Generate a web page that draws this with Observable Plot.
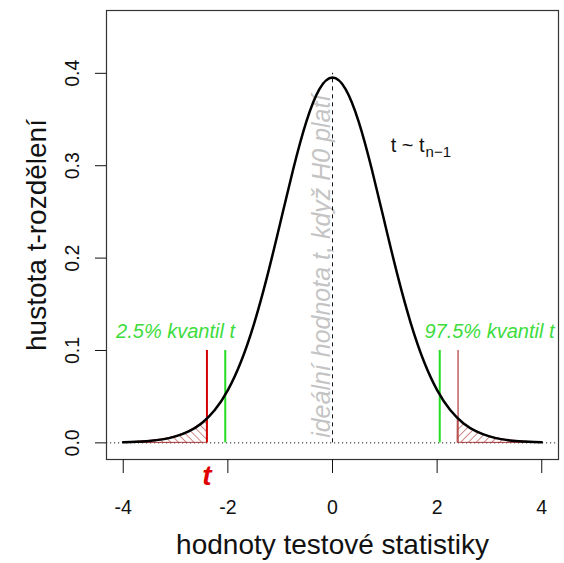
<!DOCTYPE html>
<html><head><meta charset="utf-8">
<script src="https://cdn.jsdelivr.net/npm/d3@7"></script>
<script src="https://cdn.jsdelivr.net/npm/@observablehq/plot@0.6"></script>
<style>body{margin:0;background:#fff;} svg{display:block;}</style>
</head><body><div id="chart"></div>
<script>
// ---- data ----
const xValues = [-4,-3.75,-3.5,-3.25,-3,-2.75,-2.5,-2.25,-2,-1.75,-1.5,-1.25,-1,-0.75,-0.5,-0.25,0,
                 0.25,0.5,0.75,1,1.25,1.5,1.75,2,2.25,2.5,2.75,3,3.25,3.5,3.75,4];
const densValues = [0.0006,0.0011,0.0021,0.0038,0.0070,0.0124,0.0213,0.0355,0.0571,0.0878,0.1289,0.1799,0.2378,0.2964,0.3477,0.3829,0.3955,
                    0.3829,0.3477,0.2964,0.2378,0.1799,0.1289,0.0878,0.0571,0.0355,0.0213,0.0124,0.0070,0.0038,0.0021,0.0011,0.0006];
const tStat = -2.4;
const densAtT = 0.0263;
const criticalValues = [-2.4, 2.4];
const quantiles = [-2.05, 2.05];
const markerTop = 0.1;
const centerLineTop = 0.4;
const xTicks = [-4, -2, 0, 2, 4];
const yTicks = [0, 0.1, 0.2, 0.3, 0.4];
const quantileLabels = ["2.5% kvantil t", "97.5% kvantil t"];
const quantileLabelX = [-3, 3];
const quantileLabelY = 0.12;
const distLabel = "t ~ t";
const distSub = "n\u22121";
const distLabelPos = {x: 1.76, y: 0.322};
const centerLabel = "ideální hodnota t, když H0 platí";
const xTitle = "hodnoty testové statistiky";
const yTitle = "hustota t-rozdělení";

// ---- derived tables ----
const curve = xValues.map((x, i) => ({x, y: densValues[i]}));
const leftTail = curve.filter(d => d.x <= tStat).concat([{x: tStat, y: densAtT}]);
const rightTail = [{x: -tStat, y: densAtT}].concat(curve.filter(d => d.x >= -tStat));
const qLabels = quantileLabels.map((t, i) => ({t, x: quantileLabelX[i], y: quantileLabelY}));

const font = "'Liberation Sans', Arial, sans-serif";

const chart = Plot.plot({
  width: 564, height: 563,
  marginLeft: 106, marginRight: 6, marginTop: 10, marginBottom: 104,
  style: {fontFamily: font, background: "#fff", color: "#111"},
  x: {domain: [-4.32, 4.32]},
  y: {domain: [-0.018, 0.468]},
  marks: [
    Plot.frame({stroke: "#333", strokeWidth: 1.2}),
    Plot.axisX({ticks: xTicks, tickSize: 14, tickPadding: 27, fontSize: 19.5, label: null, tickFormat: d => String(d)}),
    Plot.axisY({ticks: yTicks, tickSize: 11, tickFormat: () => "", label: null}),
    Plot.text(yTicks, {y: d => d, frameAnchor: "left", dx: -34, rotate: -90, text: d => d.toFixed(1), fontSize: 19.5, textAnchor: "middle", lineAnchor: "middle"}),
    Plot.text([xTitle], {frameAnchor: "bottom", dy: 86, fontSize: 28, textAnchor: "middle", lineAnchor: "middle"}),
    Plot.text([yTitle], {frameAnchor: "left", dx: -69, rotate: -90, fontSize: 28, textAnchor: "middle", lineAnchor: "middle"}),
    Plot.ruleY([0], {stroke: "#222", strokeDasharray: "1.2,2.8"}),
    Plot.areaY(leftTail, {x: "x", y: "y", fill: "url(#hatchL)", stroke: "#a83232", strokeWidth: 1, curve: "natural"}),
    Plot.areaY(rightTail, {x: "x", y: "y", fill: "url(#hatchR)", stroke: "#a83232", strokeWidth: 1, curve: "natural"}),
    Plot.text([centerLabel], {x: 0, y: 0, dx: -3, dy: -5, rotate: -90, textAnchor: "start", lineAnchor: "bottom", fill: "#c4c4c4", fontStyle: "italic", fontSize: 25}),
    Plot.ruleX([0], {y1: 0, y2: centerLineTop, stroke: "#111", strokeDasharray: "4,4"}),
    Plot.ruleX(quantiles, {y1: 0, y2: markerTop, stroke: "#22dd22", strokeWidth: 2}),
    Plot.ruleX([criticalValues[0]], {y1: 0, y2: markerTop, stroke: "#d40000", strokeWidth: 2}),
    Plot.ruleX([criticalValues[1]], {y1: 0, y2: markerTop, stroke: "#b03a3a", strokeWidth: 1.2}),
    Plot.line(curve, {x: "x", y: "y", stroke: "#000", strokeWidth: 2.5, curve: "natural"}),
    Plot.text(qLabels, {x: "x", y: "y", text: "t", fill: "#3ddc3d", fontStyle: "italic", fontSize: 20}),
    Plot.text([distLabel], {x: distLabelPos.x, y: distLabelPos.y, textAnchor: "end", fontSize: 20, fill: "#111"}),
    Plot.text([distSub], {x: distLabelPos.x, y: distLabelPos.y, dx: 1, dy: 7, textAnchor: "start", fontSize: 15, fill: "#111"}),
    Plot.text([tStat], {x: d => d, frameAnchor: "bottom", dy: 17, text: () => "t", fill: "#e00000", fontStyle: "italic", fontWeight: "bold", fontSize: 28, textAnchor: "middle", lineAnchor: "middle"})
  ]
});

// hatch patterns
const ns = "http://www.w3.org/2000/svg";
const defs = document.createElementNS(ns, "defs");
[["hatchL", -45], ["hatchR", 45]].forEach(([id, ang]) => {
  const p = document.createElementNS(ns, "pattern");
  p.setAttribute("id", id);
  p.setAttribute("patternUnits", "userSpaceOnUse");
  p.setAttribute("width", "5.5");
  p.setAttribute("height", "5.5");
  p.setAttribute("patternTransform", `rotate(${ang})`);
  const l = document.createElementNS(ns, "line");
  l.setAttribute("x1", "0"); l.setAttribute("y1", "0");
  l.setAttribute("x2", "0"); l.setAttribute("y2", "5.5");
  l.setAttribute("stroke", "#b03a3a");
  l.setAttribute("stroke-width", "1.2");
  p.appendChild(l);
  defs.appendChild(p);
});
chart.insertBefore(defs, chart.firstChild);
document.getElementById("chart").appendChild(chart);
</script>
</body></html>
